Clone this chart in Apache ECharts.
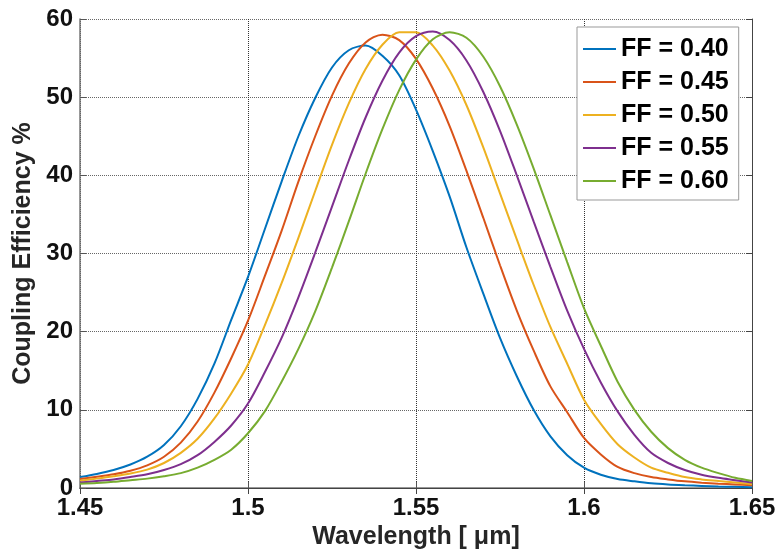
<!DOCTYPE html>
<html>
<head>
<meta charset="utf-8">
<script src="https://cdn.jsdelivr.net/npm/echarts@6/dist/echarts.min.js"></script>
<style>
    body { margin: 0; background: #fff; }
    #chart { width: 781px; height: 557px; }
</style>
</head>
<body>
<div id="chart"></div>
<script>
// wavelength samples in um
var wavelengths = [1.450, 1.455, 1.460, 1.465, 1.470, 1.475, 1.480, 1.485, 1.490, 1.495,
                   1.500, 1.505, 1.510, 1.515, 1.520, 1.525, 1.530, 1.535, 1.540, 1.545,
                   1.550, 1.555, 1.560, 1.565, 1.570, 1.575, 1.580, 1.585, 1.590, 1.595,
                   1.600, 1.605, 1.610, 1.615, 1.620, 1.625, 1.630, 1.635, 1.640, 1.645,
                   1.650];

// coupling efficiency %
var ff040 = [1.4, 1.8, 2.3, 3.0, 4.0, 5.5, 7.9, 11.4, 15.9, 21.5,
             27.0, 33.1, 39.2, 45.0, 49.9, 53.8, 56.0, 56.6, 55.3, 52.8,
             48.4, 43.1, 37.3, 30.8, 24.9, 19.2, 14.3, 10.0, 6.6, 4.2,
             2.6, 1.7, 1.15, 0.85, 0.6, 0.45, 0.35, 0.27, 0.2, 0.15,
             0.1];
var ff045 = [1.15, 1.45, 1.75, 2.2, 2.9, 4.0, 5.8, 8.5, 12.2, 16.6,
             21.4, 27.1, 32.9, 39.2, 45.0, 50.2, 54.3, 57.0, 58.0, 57.3,
             54.9, 51.1, 46.3, 40.6, 34.6, 28.5, 22.7, 17.6, 13.0, 9.7,
             6.4, 4.3, 2.7, 1.9, 1.4, 1.1, 0.85, 0.68, 0.55, 0.45,
             0.35];
var ff050 = [0.93, 1.2, 1.5, 1.85, 2.35, 3.2, 4.5, 6.3, 8.9, 12.1,
             15.8, 20.8, 26.2, 32.0, 38.0, 43.9, 49.2, 53.6, 56.7, 58.3,
             58.3, 56.6, 53.4, 49.0, 43.6, 37.7, 31.8, 26.0, 20.6, 15.9,
             11.3, 8.2, 5.6, 3.9, 2.6, 1.95, 1.4, 1.1, 0.9, 0.7,
             0.5];
var ff055 = [0.7, 0.9, 1.1, 1.4, 1.75, 2.3, 3.05, 4.2, 5.9, 8.0,
             10.8, 14.8, 19.2, 24.4, 30.1, 36.0, 41.9, 47.4, 52.1, 55.7,
             57.8, 58.4, 57.3, 54.7, 50.7, 45.7, 40.0, 34.1, 28.3, 22.7,
             17.8, 13.5, 9.8, 6.8, 4.5, 3.2, 2.3, 1.7, 1.3, 1.0,
             0.7];
var ff060 = [0.55, 0.65, 0.8, 1.0, 1.2, 1.5, 1.9, 2.6, 3.6, 4.9,
             7.0, 9.8, 13.6, 17.8, 22.6, 28.2, 34.1, 40.2, 45.9, 50.9,
             54.8, 57.4, 58.3, 57.6, 55.2, 51.4, 46.5, 40.9, 34.9, 28.9,
             23.0, 18.2, 13.6, 10.0, 7.2, 5.1, 3.6, 2.6, 1.9, 1.3,
             0.9];

var seriesNames = ['FF = 0.40', 'FF = 0.45', 'FF = 0.50', 'FF = 0.55', 'FF = 0.60'];
var seriesValues = [ff040, ff045, ff050, ff055, ff060];
var colors = ['#0072BD', '#D95319', '#EDB120', '#7E2F8E', '#77AC30'];

var xTicks = [1.45, 1.5, 1.55, 1.6, 1.65];
var yTicks = [0, 10, 20, 30, 40, 50, 60];

function pairs(values)
{
    return wavelengths.map(function (w, i) { return [w, values[i]]; });
}

function draw()
{
    var myChart = echarts.init(document.getElementById('chart'));
    var font = 'Liberation Sans, Arial, sans-serif';

    var series = seriesNames.map(function (name, i) {
        return {
            name: name,
            type: 'line',
            data: pairs(seriesValues[i]),
            smooth: 0.3,
            symbol: 'none',
            lineStyle: { color: colors[i], width: 2 },
            itemStyle: { color: colors[i] }
        };
    });

    var option = {
        animation: false,
        backgroundColor: '#fff',
        color: colors,
        grid: { left: 80, right: 29, top: 19, bottom: 69 },
        legend: {
            orient: 'vertical',
            left: 577,
            top: 27,
            padding: [8, 10, 5, 6],
            icon: 'rect',
            itemWidth: 33,
            itemHeight: 2,
            itemGap: 5,
            backgroundColor: '#fff',
            borderColor: '#999',
            borderWidth: 1,
            textStyle: { fontFamily: font, fontWeight: 'bold', fontSize: 25, color: '#000', lineHeight: 28 },
            data: seriesNames
        },
        xAxis: [{
            type: 'value',
            min: xTicks[0],
            max: xTicks[xTicks.length - 1],
            interval: 0.05,
            name: 'Wavelength [ μm]',
            nameLocation: 'middle',
            nameGap: 33,
            nameTextStyle: { fontFamily: font, fontWeight: 'bold', fontSize: 25, color: '#262626' },
            axisLine: { lineStyle: { color: '#777', width: 1.5 } },
            axisTick: { inside: true, length: 6, lineStyle: { color: '#555' } },
            axisLabel: {
                fontFamily: font, fontWeight: 'bold', fontSize: 24, color: '#111', margin: 8,
                showMinLabel: true, showMaxLabel: true,
                formatter: function (v) { return String(+v.toFixed(2)); }
            },
            splitLine: { show: true, lineStyle: { color: '#333', type: 'dotted', width: 1 } }
        }, {
            type: 'value',
            position: 'top',
            min: xTicks[0],
            max: xTicks[xTicks.length - 1],
            interval: 0.05,
            axisLine: { lineStyle: { color: '#444', width: 1 } },
            axisTick: { inside: true, length: 6, lineStyle: { color: '#444' } },
            axisLabel: { show: false },
            splitLine: { show: false }
        }],
        yAxis: [{
            type: 'value',
            min: yTicks[0],
            max: yTicks[yTicks.length - 1],
            interval: 10,
            name: 'Coupling Efficiency %',
            nameLocation: 'middle',
            nameGap: 42,
            nameTextStyle: { fontFamily: font, fontWeight: 'bold', fontSize: 25, color: '#262626' },
            axisLine: { show: true, lineStyle: { color: '#777', width: 1.5 } },
            axisTick: { show: true, inside: true, length: 6, lineStyle: { color: '#555' } },
            axisLabel: { fontFamily: font, fontWeight: 'bold', fontSize: 24, color: '#111', margin: 7 },
            splitLine: { show: true, lineStyle: { color: '#666', type: 'dotted', width: 1 } }
        }, {
            type: 'value',
            position: 'right',
            min: yTicks[0],
            max: yTicks[yTicks.length - 1],
            interval: 10,
            axisLine: { show: true, lineStyle: { color: '#444', width: 1 } },
            axisTick: { show: true, inside: true, length: 6, lineStyle: { color: '#444' } },
            axisLabel: { show: false },
            splitLine: { show: false }
        }],
        series: series
    };

    myChart.setOption(option);
}

draw();
</script>
</body>
</html>
